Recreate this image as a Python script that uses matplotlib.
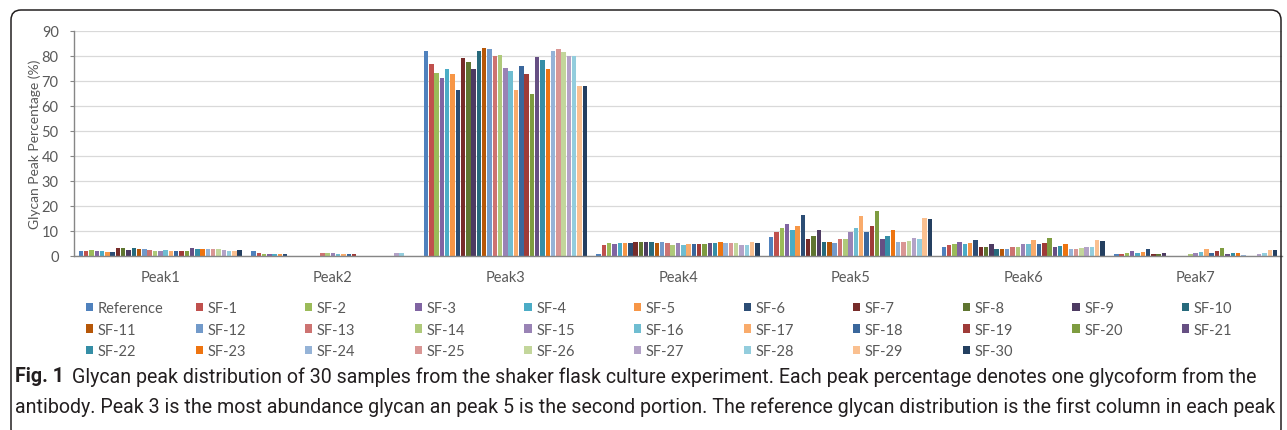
import matplotlib
matplotlib.use("Agg")
import matplotlib.pyplot as plt
import numpy as np
from matplotlib.patches import Patch, FancyBboxPatch
from matplotlib.transforms import IdentityTransform

# ---------------- data ----------------
peaks = ["Peak1", "Peak2", "Peak3", "Peak4", "Peak5", "Peak6", "Peak7"]
series = ["Reference"] + [f"SF-{i}" for i in range(1, 31)]

peak1 = [2.1, 2.0, 2.4, 2.1, 2.1, 1.6, 1.6, 3.2, 3.2, 2.6, 3.3, 2.8, 2.9, 2.4, 2.2, 2.2,
         2.4, 2.1, 2.0, 2.0, 2.1, 3.1, 2.8, 2.8, 2.8, 2.8, 2.8, 2.3, 2.2, 2.2, 2.4]
peak2 = [1.9, 1.2, 1.0, 1.0, 0.9, 0.9, 0.9, 0, 0, 0, 0, 0, 0, 1.1, 1.1, 1.2,
         1.0, 1.0, 1.0, 1.0, 0, 0, 0, 0, 0, 0, 0, 1.1, 1.1, 0, 0]
peak3 = [82.0, 77.0, 73.4, 71.1, 75.0, 72.8, 66.3, 79.1, 77.8, 74.8, 82.0, 83.1, 82.7, 79.9, 80.3, 75.4,
         74.0, 66.6, 75.9, 72.8, 64.8, 79.6, 78.3, 74.7, 81.9, 82.7, 81.8, 79.9, 79.9, 68.0, 67.9]
peak4 = [0.9, 4.6, 5.2, 4.8, 5.2, 5.2, 5.3, 5.8, 5.6, 5.6, 5.6, 5.1, 5.6, 5.3, 4.6, 5.1,
         4.6, 4.9, 4.9, 4.9, 4.9, 5.3, 5.3, 5.6, 5.3, 5.3, 5.2, 4.6, 4.6, 5.6, 5.2]
peak5 = [7.7, 9.5, 11.2, 12.8, 10.4, 12.0, 16.5, 7.0, 8.2, 10.5, 5.6, 5.6, 5.3, 7.0, 7.0, 9.8,
         11.3, 16.0, 9.8, 12.0, 18.0, 7.0, 8.1, 10.5, 5.7, 5.7, 6.1, 7.2, 7.0, 15.4, 15.0]
peak6 = [3.7, 4.4, 4.8, 5.6, 4.8, 5.4, 6.4, 3.5, 3.7, 4.7, 3.0, 3.0, 2.8, 3.7, 3.6, 4.7,
         4.8, 6.6, 4.7, 5.4, 7.1, 3.5, 3.9, 4.7, 3.0, 3.0, 3.3, 3.6, 3.7, 6.3, 6.1]
peak7 = [0.8, 1.0, 1.3, 1.9, 1.4, 1.5, 2.9, 0.8, 1.0, 1.3, 0, 0, 0, 0, 0.8, 1.4,
         1.6, 2.7, 1.4, 1.9, 3.2, 0.9, 1.1, 1.4, 0.6, 0, 0, 0.8, 1.1, 2.3, 2.3]

colors = ["#4F81BD", "#C0504D", "#9BBB59", "#8064A2", "#4BACC6", "#F79646",
          "#2C4D75", "#772C2A", "#5F7530", "#4D3B62", "#276A7C", "#B65708",
          "#729ACA", "#CD7371", "#AFC97A", "#9983B5", "#6FBDD1", "#F9AB6B",
          "#3A679C", "#9F3B38", "#7E9C40", "#664F83", "#358EA6", "#EE7410",
          "#95B3D7", "#D99694", "#C3D69B", "#B3A2C7", "#93CDDD", "#FAC090",
          "#243F60"]

values = np.array([peak1, peak2, peak3, peak4, peak5, peak6, peak7])  # (peaks, series)

# ---------------- figure ----------------
W, H = 1287, 431
fig = plt.figure(figsize=(W / 100, H / 100), dpi=100)
chart_font = ["Lato", "DejaVu Sans"]
txt_col = "#595959"

ax = fig.add_axes([74 / W, 1 - 257 / H, (1282 - 74) / W, (257 - 32) / H])

n = len(series)
group_w = 0.95
slot = group_w / n
x = np.arange(len(peaks))
for j, (name, col) in enumerate(zip(series, colors)):
    pos = x - group_w / 2 + slot * (j + 0.5)
    ax.bar(pos, values[:, j], width=slot * 0.84, color=col, label=name, zorder=3)

ax.set_xlim(-0.5, len(peaks) - 0.5)
ax.set_ylim(0, 90)
ax.set_yticks(np.arange(0, 91, 10))
ax.set_xticks(x)
ax.set_xticklabels(peaks, fontfamily=chart_font, fontsize=10.5, color=txt_col)
for lab in ax.get_yticklabels():
    lab.set_fontfamily(chart_font)
    lab.set_fontsize(10.5)
    lab.set_color(txt_col)
ax.tick_params(axis="x", length=0, pad=10)
ax.tick_params(axis="y", length=3, width=0.8, color="#868686", pad=8)
ax.grid(axis="y", color="#D9D9D9", linewidth=0.9, zorder=0)
for s in ["top", "right"]:
    ax.spines[s].set_visible(False)
for s in ["left", "bottom"]:
    ax.spines[s].set_color("#868686")
    ax.spines[s].set_linewidth(1.0)
    ax.spines[s].set_zorder(4)
ax.set_ylabel("Glycan Peak Percentage (%)", fontfamily=chart_font, fontsize=10,
              color=txt_col)
ax.yaxis.set_label_coords(-(74 - 41) / (1282 - 74), 0.5)

# ---------------- legend (11 columns x 3 rows) ----------------
ncol = 11
col_x0, col_dx = 86, 109.6
row_top = 302
for c in range(ncol):
    idx = [c + r * ncol for r in range(3) if c + r * ncol < n]
    handles = [Patch(facecolor=colors[i], edgecolor="none") for i in idx]
    labels = [series[i] for i in idx]
    fig.legend(handles, labels, loc="upper left",
               bbox_to_anchor=((col_x0 + c * col_dx) / W, 1 - row_top / H),
               frameon=False, borderpad=0, borderaxespad=0,
               handlelength=0.5, handleheight=0.5, handletextpad=0.3,
               labelspacing=0.52, prop={"family": chart_font, "size": 10.5},
               labelcolor=txt_col)

# ---------------- caption ----------------
cap_font = ["Roboto", "DejaVu Sans"]
cap_col = "#231F20"
cap_size = 13
line1 = "Glycan peak distribution of 30 samples from the shaker flask culture experiment. Each peak percentage denotes one glycoform from the"
line2 = "antibody. Peak 3 is the most abundance glycan an peak 5 is the second portion. The reference glycan distribution is the first column in each peak"
t_fig = fig.text(15 / W, 1 - 377 / H, "Fig. 1", fontfamily=cap_font, fontweight="bold",
                 fontsize=cap_size, color=cap_col, va="center", ha="left")
t1 = fig.text(63 / W, 1 - 377 / H, line1, fontfamily=cap_font, fontsize=cap_size,
              color=cap_col, va="center", ha="left")
t2 = fig.text(15 / W, 1 - 407 / H, line2, fontfamily=cap_font, fontsize=cap_size,
              color=cap_col, va="center", ha="left")

# fit caption width to the reference line length
fig.canvas.draw()
r = fig.canvas.get_renderer()
w2 = t2.get_window_extent(r).width
scale = (1275 - 15) / w2
for t in (t_fig, t1, t2):
    t.set_fontsize(cap_size * scale)
fig.canvas.draw()
bx = t_fig.get_window_extent(r)
t1.set_x((bx.x1 + 8) / W)

# ---------------- frame ----------------
box = FancyBboxPatch((11, H - 440), 1270, 440 - 11,
                     boxstyle="round,pad=0,rounding_size=10",
                     transform=IdentityTransform(), fill=False,
                     edgecolor="#231F20", linewidth=1.1)
fig.patches.append(box)

fig.savefig("out.png", dpi=100)
